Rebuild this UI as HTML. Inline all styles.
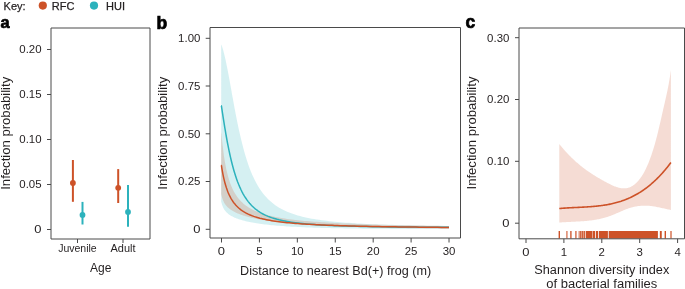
<!DOCTYPE html>
<html><head><meta charset="utf-8"><style>
html,body{margin:0;padding:0;background:#fff;width:685px;height:289px;overflow:hidden}
svg{display:block;will-change:transform}
text{font-family:"Liberation Sans",sans-serif}
</style></head><body>
<svg width="685" height="289" viewBox="0 0 685 289" font-family="Liberation Sans, sans-serif" fill="#231f20">
<rect width="685" height="289" fill="#fff"/>
<text x="3.6" y="9.6" font-size="11" style="stroke:#231f20;stroke-width:0.25px">Key:</text>
<circle cx="42.8" cy="5.6" r="4.1" fill="#cd5228"/>
<text x="51.8" y="9.6" font-size="11" style="stroke:#231f20;stroke-width:0.25px">RFC</text>
<circle cx="94" cy="5.6" r="4.1" fill="#2cb2bc"/>
<text x="106" y="9.6" font-size="11" style="stroke:#231f20;stroke-width:0.25px">HUI</text>
<g font-size="17.5" font-weight="bold" fill="#000" style="stroke:#000;stroke-width:0.7px">
<text x="0.4" y="27.5" font-size="16.3" style="stroke:#000;stroke-width:0.7px">a</text>
<text x="156.6" y="29.3" style="stroke:#000;stroke-width:0.7px">b</text>
<text x="465.4" y="28" style="stroke:#000;stroke-width:0.7px">c</text>
</g>
<g stroke="#4a4a4a" stroke-width="1" fill="none">
<path d="M51,28H150V239H51Z"/>
<path d="M47,49.5H51"/>
<path d="M47,94.5H51"/>
<path d="M47,139.5H51"/>
<path d="M47,184.5H51"/>
<path d="M47,229.5H51"/>
<path d="M77.5,239V243"/>
<path d="M123,239V243"/>
</g>
<text x="41.6" y="53.30" text-anchor="end" font-size="10.6" textLength="22.26" lengthAdjust="spacingAndGlyphs">0.20</text><text x="41.6" y="98.30" text-anchor="end" font-size="10.6" textLength="22.26" lengthAdjust="spacingAndGlyphs">0.15</text><text x="41.6" y="143.30" text-anchor="end" font-size="10.6" textLength="22.26" lengthAdjust="spacingAndGlyphs">0.10</text><text x="41.6" y="188.30" text-anchor="end" font-size="10.6" textLength="22.26" lengthAdjust="spacingAndGlyphs">0.05</text><text x="41.6" y="233.30" text-anchor="end" font-size="10.6" textLength="7.22" lengthAdjust="spacingAndGlyphs">0</text>
<text x="77.45" y="252.2" font-size="10.5" text-anchor="middle">Juvenile</text>
<text x="123" y="252.2" font-size="10.5" text-anchor="middle" textLength="25" lengthAdjust="spacingAndGlyphs">Adult</text>
<text x="100.7" y="271.9" font-size="12" text-anchor="middle">Age</text>
<text transform="translate(10.4,133.3) rotate(-90)" font-size="12" text-anchor="middle" textLength="113" lengthAdjust="spacingAndGlyphs">Infection probability</text>
<path d="M72.9,160V201.8" stroke="#cd5228" stroke-width="2"/>
<circle cx="72.9" cy="183" r="2.9" fill="#cd5228"/>
<path d="M82.5,201.9V224.5" stroke="#2cb2bc" stroke-width="2"/>
<circle cx="82.5" cy="214.9" r="2.9" fill="#2cb2bc"/>
<path d="M118.2,169.1V203" stroke="#cd5228" stroke-width="2"/>
<circle cx="118.2" cy="187.8" r="2.9" fill="#cd5228"/>
<path d="M128,184.9V226.8" stroke="#2cb2bc" stroke-width="2"/>
<circle cx="128" cy="211.9" r="2.9" fill="#2cb2bc"/>
<path d="M221.20,44.70L221.22,44.70L221.26,44.70L221.34,44.70L221.46,44.85L221.60,45.24L221.78,45.73L221.99,46.33L222.23,47.05L222.50,47.91L222.81,48.91L223.15,50.07L223.52,51.41L223.92,52.94L224.35,54.68L224.82,56.63L225.32,58.82L225.85,61.25L226.41,63.94L227.01,66.89L227.63,70.09L228.29,73.56L228.99,77.27L229.71,81.23L230.47,85.42L231.25,89.81L232.07,94.38L232.93,99.10L233.81,103.95L234.73,108.89L235.68,113.89L236.66,118.91L237.67,123.92L238.72,128.89L239.80,133.79L240.91,138.60L242.05,143.29L243.22,147.85L244.43,152.25L245.67,156.49L246.94,160.55L248.24,164.43L249.58,168.13L250.94,171.64L252.34,174.96L253.78,178.11L255.24,181.07L256.73,183.86L258.26,186.49L259.82,188.96L261.42,191.27L263.04,193.44L264.70,195.47L266.39,197.37L268.11,199.15L269.86,200.81L271.65,202.37L273.46,203.82L275.31,205.18L277.20,206.46L279.11,207.64L281.06,208.76L283.04,209.80L285.05,210.77L287.09,211.68L289.17,212.54L291.27,213.34L293.41,214.09L295.58,214.79L297.79,215.45L300.02,216.07L302.29,216.65L304.59,217.19L306.92,217.71L309.29,218.19L311.69,218.64L314.12,219.07L316.58,219.47L319.07,219.85L321.60,220.21L324.15,220.55L326.74,220.87L329.37,221.17L332.02,221.45L334.71,221.72L337.42,221.98L340.18,222.22L342.96,222.45L345.77,222.66L348.62,222.87L351.50,223.06L354.41,223.24L357.36,223.42L360.33,223.59L363.34,223.74L366.38,223.89L369.45,224.03L372.56,224.17L375.69,224.30L378.86,224.42L382.06,224.54L385.30,224.65L388.56,224.75L391.86,224.85L395.19,224.95L398.55,225.04L401.95,225.12L405.37,225.21L408.83,225.29L412.32,225.36L415.85,225.43L419.40,225.50L422.99,225.56L426.61,225.63L430.26,225.68L433.94,225.74L437.66,225.79L441.41,225.84L445.19,225.89L449.00,225.94L449.00,229.10L445.19,229.10L441.41,229.09L437.66,229.08L433.94,229.07L430.26,229.06L426.61,229.05L422.99,229.04L419.40,229.03L415.85,229.01L412.32,229.00L408.83,228.98L405.37,228.97L401.95,228.95L398.55,228.93L395.19,228.92L391.86,228.90L388.56,228.87L385.30,228.85L382.06,228.83L378.86,228.80L375.69,228.78L372.56,228.75L369.45,228.72L366.38,228.69L363.34,228.65L360.33,228.62L357.36,228.58L354.41,228.54L351.50,228.50L348.62,228.46L345.77,228.41L342.96,228.37L340.18,228.32L337.42,228.26L334.71,228.21L332.02,228.15L329.37,228.09L326.74,228.02L324.15,227.96L321.60,227.89L319.07,227.81L316.58,227.74L314.12,227.66L311.69,227.57L309.29,227.48L306.92,227.39L304.59,227.30L302.29,227.20L300.02,227.09L297.79,226.99L295.58,226.87L293.41,226.76L291.27,226.64L289.17,226.51L287.09,226.38L285.05,226.24L283.04,226.10L281.06,225.95L279.11,225.80L277.20,225.65L275.31,225.48L273.46,225.31L271.65,225.14L269.86,224.96L268.11,224.77L266.39,224.58L264.70,224.38L263.04,224.17L261.42,223.96L259.82,223.74L258.26,223.52L256.73,223.28L255.24,223.04L253.78,222.79L252.34,222.54L250.94,222.27L249.58,222.00L248.24,221.72L246.94,221.43L245.67,221.14L244.43,220.83L243.22,220.52L242.05,220.19L240.91,219.86L239.80,219.51L238.72,219.16L237.67,218.79L236.66,218.42L235.68,218.03L234.73,217.63L233.81,217.21L232.93,216.78L232.07,216.34L231.25,215.88L230.47,215.41L229.71,214.92L228.99,214.42L228.29,213.89L227.63,213.35L227.01,212.79L226.41,212.21L225.85,211.60L225.32,210.98L224.82,210.33L224.35,209.66L223.92,208.97L223.52,208.25L223.15,207.53L222.81,206.78L222.50,206.03L222.23,205.29L221.99,204.55L221.78,203.85L221.60,203.19L221.46,202.61L221.34,202.36L221.26,202.36L221.22,202.36L221.20,202.36Z" fill="#2cb2bc" fill-opacity="0.2"/>
<path d="M221.20,132.65L221.22,132.65L221.26,132.65L221.34,132.65L221.46,133.33L221.60,135.01L221.78,136.98L221.99,139.21L222.23,141.65L222.50,144.27L222.81,147.01L223.15,149.85L223.52,152.74L223.92,155.66L224.35,158.57L224.82,161.45L225.32,164.29L225.85,167.06L226.41,169.75L227.01,172.36L227.63,174.87L228.29,177.29L228.99,179.60L229.71,181.82L230.47,183.93L231.25,185.94L232.07,187.85L232.93,189.67L233.81,191.40L234.73,193.04L235.68,194.59L236.66,196.06L237.67,197.46L238.72,198.78L239.80,200.04L240.91,201.23L242.05,202.35L243.22,203.42L244.43,204.43L245.67,205.39L246.94,206.31L248.24,207.17L249.58,207.99L250.94,208.78L252.34,209.52L253.78,210.22L255.24,210.90L256.73,211.54L258.26,212.14L259.82,212.72L261.42,213.28L263.04,213.81L264.70,214.31L266.39,214.79L268.11,215.25L269.86,215.69L271.65,216.11L273.46,216.51L275.31,216.89L277.20,217.26L279.11,217.61L281.06,217.95L283.04,218.27L285.05,218.58L287.09,218.88L289.17,219.17L291.27,219.44L293.41,219.71L295.58,219.96L297.79,220.21L300.02,220.44L302.29,220.67L304.59,220.89L306.92,221.10L309.29,221.30L311.69,221.49L314.12,221.68L316.58,221.86L319.07,222.04L321.60,222.21L324.15,222.37L326.74,222.53L329.37,222.68L332.02,222.83L334.71,222.97L337.42,223.11L340.18,223.25L342.96,223.38L345.77,223.50L348.62,223.62L351.50,223.74L354.41,223.86L357.36,223.97L360.33,224.07L363.34,224.18L366.38,224.28L369.45,224.38L372.56,224.47L375.69,224.57L378.86,224.66L382.06,224.74L385.30,224.83L388.56,224.91L391.86,224.99L395.19,225.07L398.55,225.14L401.95,225.22L405.37,225.29L408.83,225.36L412.32,225.43L415.85,225.50L419.40,225.56L422.99,225.62L426.61,225.69L430.26,225.75L433.94,225.80L437.66,225.86L441.41,225.92L445.19,225.97L449.00,226.02L449.00,228.60L445.19,228.57L441.41,228.54L437.66,228.51L433.94,228.47L430.26,228.43L426.61,228.39L422.99,228.35L419.40,228.31L415.85,228.27L412.32,228.22L408.83,228.17L405.37,228.12L401.95,228.07L398.55,228.02L395.19,227.96L391.86,227.90L388.56,227.84L385.30,227.78L382.06,227.71L378.86,227.64L375.69,227.57L372.56,227.50L369.45,227.42L366.38,227.35L363.34,227.26L360.33,227.18L357.36,227.09L354.41,227.00L351.50,226.91L348.62,226.81L345.77,226.71L342.96,226.61L340.18,226.50L337.42,226.39L334.71,226.28L332.02,226.16L329.37,226.04L326.74,225.92L324.15,225.79L321.60,225.65L319.07,225.52L316.58,225.38L314.12,225.23L311.69,225.08L309.29,224.93L306.92,224.77L304.59,224.61L302.29,224.45L300.02,224.27L297.79,224.10L295.58,223.92L293.41,223.73L291.27,223.54L289.17,223.35L287.09,223.15L285.05,222.94L283.04,222.73L281.06,222.52L279.11,222.30L277.20,222.07L275.31,221.84L273.46,221.60L271.65,221.36L269.86,221.11L268.11,220.86L266.39,220.60L264.70,220.33L263.04,220.06L261.42,219.78L259.82,219.49L258.26,219.20L256.73,218.90L255.24,218.59L253.78,218.28L252.34,217.96L250.94,217.63L249.58,217.29L248.24,216.95L246.94,216.59L245.67,216.23L244.43,215.86L243.22,215.48L242.05,215.09L240.91,214.70L239.80,214.29L238.72,213.87L237.67,213.44L236.66,212.99L235.68,212.54L234.73,212.07L233.81,211.59L232.93,211.09L232.07,210.58L231.25,210.05L230.47,209.51L229.71,208.94L228.99,208.36L228.29,207.76L227.63,207.14L227.01,206.50L226.41,205.84L225.85,205.15L225.32,204.44L224.82,203.71L224.35,202.95L223.92,202.17L223.52,201.37L223.15,200.55L222.81,199.72L222.50,198.89L222.23,198.06L221.99,197.25L221.78,196.48L221.60,195.77L221.46,195.13L221.34,194.86L221.26,194.86L221.22,194.86L221.20,194.86Z" fill="#cd5228" fill-opacity="0.2"/>
<path d="M221.20,105.80L221.22,105.80L221.26,105.80L221.34,105.80L221.46,106.19L221.60,107.16L221.78,108.34L221.99,109.73L222.23,111.33L222.50,113.14L222.81,115.13L223.15,117.32L223.52,119.68L223.92,122.22L224.35,124.92L224.82,127.76L225.32,130.73L225.85,133.82L226.41,137.00L227.01,140.27L227.63,143.60L228.29,146.97L228.99,150.36L229.71,153.76L230.47,157.14L231.25,160.49L232.07,163.80L232.93,167.04L233.81,170.21L234.73,173.29L235.68,176.28L236.66,179.16L237.67,181.93L238.72,184.59L239.80,187.13L240.91,189.55L242.05,191.85L243.22,194.03L244.43,196.09L245.67,198.04L246.94,199.88L248.24,201.61L249.58,203.24L250.94,204.77L252.34,206.20L253.78,207.54L255.24,208.80L256.73,209.98L258.26,211.08L259.82,212.11L261.42,213.07L263.04,213.97L264.70,214.81L266.39,215.60L268.11,216.33L269.86,217.01L271.65,217.66L273.46,218.25L275.31,218.81L277.20,219.34L279.11,219.83L281.06,220.28L283.04,220.71L285.05,221.11L287.09,221.49L289.17,221.84L291.27,222.17L293.41,222.48L295.58,222.77L297.79,223.05L300.02,223.30L302.29,223.55L304.59,223.77L306.92,223.98L309.29,224.18L311.69,224.37L314.12,224.55L316.58,224.72L319.07,224.88L321.60,225.02L324.15,225.17L326.74,225.30L329.37,225.42L332.02,225.54L334.71,225.65L337.42,225.76L340.18,225.86L342.96,225.95L345.77,226.04L348.62,226.12L351.50,226.20L354.41,226.28L357.36,226.35L360.33,226.42L363.34,226.48L366.38,226.54L369.45,226.60L372.56,226.65L375.69,226.70L378.86,226.75L382.06,226.79L385.30,226.84L388.56,226.88L391.86,226.91L395.19,226.95L398.55,226.98L401.95,227.02L405.37,227.05L408.83,227.07L412.32,227.10L415.85,227.12L419.40,227.15L422.99,227.17L426.61,227.19L430.26,227.21L433.94,227.22L437.66,227.24L441.41,227.25L445.19,227.26L449.00,227.27" fill="none" stroke="#2cb2bc" stroke-width="1.5"/>
<path d="M221.20,165.39L221.22,165.39L221.26,165.39L221.34,165.39L221.46,165.77L221.60,166.70L221.78,167.81L221.99,169.07L222.23,170.48L222.50,172.00L222.81,173.61L223.15,175.30L223.52,177.05L223.92,178.84L224.35,180.65L224.82,182.47L225.32,184.28L225.85,186.07L226.41,187.83L227.01,189.56L227.63,191.24L228.29,192.87L228.99,194.44L229.71,195.97L230.47,197.43L231.25,198.83L232.07,200.18L232.93,201.46L233.81,202.69L234.73,203.86L235.68,204.98L236.66,206.04L237.67,207.05L238.72,208.01L239.80,208.92L240.91,209.79L242.05,210.61L243.22,211.39L244.43,212.13L245.67,212.83L246.94,213.50L248.24,214.14L249.58,214.74L250.94,215.31L252.34,215.85L253.78,216.37L255.24,216.86L256.73,217.33L258.26,217.77L259.82,218.20L261.42,218.60L263.04,218.98L264.70,219.35L266.39,219.70L268.11,220.03L269.86,220.35L271.65,220.65L273.46,220.94L275.31,221.21L277.20,221.48L279.11,221.73L281.06,221.97L283.04,222.20L285.05,222.42L287.09,222.63L289.17,222.83L291.27,223.03L293.41,223.21L295.58,223.39L297.79,223.56L300.02,223.73L302.29,223.89L304.59,224.04L306.92,224.18L309.29,224.32L311.69,224.46L314.12,224.59L316.58,224.71L319.07,224.83L321.60,224.95L324.15,225.06L326.74,225.17L329.37,225.27L332.02,225.37L334.71,225.47L337.42,225.56L340.18,225.65L342.96,225.74L345.77,225.82L348.62,225.90L351.50,225.98L354.41,226.06L357.36,226.13L360.33,226.20L363.34,226.27L366.38,226.34L369.45,226.40L372.56,226.46L375.69,226.52L378.86,226.58L382.06,226.64L385.30,226.70L388.56,226.75L391.86,226.80L395.19,226.85L398.55,226.90L401.95,226.95L405.37,226.99L408.83,227.04L412.32,227.08L415.85,227.12L419.40,227.16L422.99,227.20L426.61,227.24L430.26,227.28L433.94,227.32L437.66,227.35L441.41,227.39L445.19,227.42L449.00,227.46" fill="none" stroke="#cd5228" stroke-width="1.5"/>
<g stroke="#4a4a4a" stroke-width="1" fill="none">
<path d="M210,27.5H460.5V238H210Z"/>
<path d="M205.7,38.3H210"/>
<path d="M205.7,86H210"/>
<path d="M205.7,133.8H210"/>
<path d="M205.7,181.5H210"/>
<path d="M205.7,229.3H210"/>
<path d="M221.50,238V242.5"/>
<path d="M259.42,238V242.5"/>
<path d="M297.34,238V242.5"/>
<path d="M335.26,238V242.5"/>
<path d="M373.18,238V242.5"/>
<path d="M411.10,238V242.5"/>
<path d="M449.02,238V242.5"/>
</g>
<text x="200.4" y="42.10" text-anchor="end" font-size="10.6" textLength="22.26" lengthAdjust="spacingAndGlyphs">1.00</text><text x="200.4" y="89.80" text-anchor="end" font-size="10.6" textLength="22.26" lengthAdjust="spacingAndGlyphs">0.75</text><text x="200.4" y="137.60" text-anchor="end" font-size="10.6" textLength="22.26" lengthAdjust="spacingAndGlyphs">0.50</text><text x="200.4" y="185.30" text-anchor="end" font-size="10.6" textLength="22.26" lengthAdjust="spacingAndGlyphs">0.25</text><text x="200.4" y="233.10" text-anchor="end" font-size="10.6" textLength="7.22" lengthAdjust="spacingAndGlyphs">0</text>
<text x="221.50" y="254.5" font-size="10.3" text-anchor="middle" textLength="7.22" lengthAdjust="spacingAndGlyphs">0</text>
<text x="259.42" y="254.5" font-size="10.3" text-anchor="middle" textLength="6.36" lengthAdjust="spacingAndGlyphs">5</text>
<text x="297.34" y="254.5" font-size="10.3" text-anchor="middle" textLength="12.72" lengthAdjust="spacingAndGlyphs">10</text>
<text x="335.26" y="254.5" font-size="10.3" text-anchor="middle" textLength="12.72" lengthAdjust="spacingAndGlyphs">15</text>
<text x="373.18" y="254.5" font-size="10.3" text-anchor="middle" textLength="12.72" lengthAdjust="spacingAndGlyphs">20</text>
<text x="411.10" y="254.5" font-size="10.3" text-anchor="middle" textLength="12.72" lengthAdjust="spacingAndGlyphs">25</text>
<text x="449.02" y="254.5" font-size="10.3" text-anchor="middle" textLength="12.72" lengthAdjust="spacingAndGlyphs">30</text>
<text x="335.6" y="274.9" font-size="12" text-anchor="middle" textLength="191" lengthAdjust="spacingAndGlyphs">Distance to nearest Bd(+) frog (m)</text>
<text transform="translate(166.6,133.2) rotate(-90)" font-size="12" text-anchor="middle" textLength="113" lengthAdjust="spacingAndGlyphs">Infection probability</text>
<path d="M559.30,143.99L559.86,144.69L560.42,145.39L560.98,146.07L561.54,146.75L562.10,147.42L562.66,148.09L563.23,148.74L563.79,149.39L564.35,150.03L564.91,150.66L565.47,151.29L566.03,151.91L566.59,152.52L567.15,153.12L567.71,153.72L568.27,154.31L568.83,154.90L569.39,155.47L569.96,156.04L570.52,156.60L571.08,157.16L571.64,157.71L572.20,158.25L572.76,158.79L573.32,159.32L573.88,159.85L574.44,160.36L575.00,160.88L575.56,161.38L576.12,161.88L576.68,162.38L577.25,162.87L577.81,163.35L578.37,163.83L578.93,164.30L579.49,164.77L580.05,165.23L580.61,165.68L581.17,166.14L581.73,166.58L582.29,167.02L582.85,167.46L583.41,167.89L583.98,168.32L584.54,168.74L585.10,169.15L585.66,169.57L586.22,169.97L586.78,170.38L587.34,170.78L587.90,171.17L588.46,171.56L589.02,171.95L589.58,172.33L590.14,172.71L590.71,173.09L591.27,173.46L591.83,173.82L592.39,174.19L592.95,174.55L593.51,174.90L594.07,175.26L594.63,175.61L595.19,175.95L595.75,176.30L596.31,176.64L596.87,176.98L597.43,177.31L598.00,177.64L598.56,177.97L599.12,178.30L599.68,178.62L600.24,178.94L600.80,179.26L601.36,179.58L601.92,179.89L602.48,180.21L603.04,180.52L603.60,180.82L604.16,181.13L604.73,181.43L605.29,181.74L605.85,182.04L606.41,182.34L606.97,182.63L607.53,182.93L608.09,183.22L608.65,183.51L609.21,183.80L609.77,184.08L610.33,184.36L610.89,184.64L611.45,184.91L612.02,185.17L612.58,185.43L613.14,185.68L613.70,185.92L614.26,186.15L614.82,186.38L615.38,186.60L615.94,186.80L616.50,187.00L617.06,187.18L617.62,187.36L618.18,187.52L618.75,187.67L619.31,187.80L619.87,187.93L620.43,188.03L620.99,188.13L621.55,188.21L622.11,188.27L622.67,188.31L623.23,188.34L623.79,188.35L624.35,188.35L624.91,188.32L625.47,188.28L626.04,188.21L626.60,188.13L627.16,188.02L627.72,187.90L628.28,187.75L628.84,187.58L629.40,187.39L629.96,187.17L630.52,186.93L631.08,186.66L631.64,186.37L632.20,186.06L632.77,185.71L633.33,185.34L633.89,184.95L634.45,184.52L635.01,184.07L635.57,183.59L636.13,183.07L636.69,182.53L637.25,181.96L637.81,181.36L638.37,180.72L638.93,180.05L639.49,179.35L640.06,178.62L640.62,177.85L641.18,177.04L641.74,176.20L642.30,175.32L642.86,174.40L643.42,173.44L643.98,172.45L644.54,171.41L645.10,170.33L645.66,169.21L646.22,168.04L646.79,166.83L647.35,165.57L647.91,164.27L648.47,162.92L649.03,161.52L649.59,160.08L650.15,158.58L650.71,157.03L651.27,155.44L651.83,153.78L652.39,152.08L652.95,150.32L653.52,148.51L654.08,146.64L654.64,144.71L655.20,142.73L655.76,140.69L656.32,138.59L656.88,136.43L657.44,134.21L658.00,131.93L658.56,129.61L659.12,127.24L659.68,124.85L660.24,122.42L660.81,119.97L661.37,117.50L661.93,115.02L662.49,112.54L663.05,110.06L663.61,107.59L664.17,105.14L664.73,102.70L665.29,100.28L665.85,97.83L666.41,95.34L666.97,92.77L667.54,90.09L668.10,87.27L668.66,84.28L669.22,81.08L669.78,77.66L670.34,73.97L670.90,69.99L670.90,209.96L669.96,209.79L669.02,209.60L668.09,209.40L667.15,209.20L666.21,209.00L665.27,208.79L664.34,208.58L663.40,208.36L662.46,208.15L661.52,207.94L660.58,207.73L659.65,207.52L658.71,207.32L657.77,207.13L656.83,206.94L655.89,206.76L654.96,206.59L654.02,206.43L653.08,206.28L652.14,206.15L651.21,206.03L650.27,205.93L649.33,205.84L648.39,205.77L647.45,205.71L646.52,205.68L645.58,205.65L644.64,205.65L643.70,205.66L642.77,205.69L641.83,205.73L640.89,205.80L639.95,205.88L639.01,205.98L638.08,206.10L637.14,206.23L636.20,206.39L635.26,206.57L634.33,206.76L633.39,206.97L632.45,207.21L631.51,207.46L630.57,207.74L629.64,208.03L628.70,208.34L627.76,208.67L626.82,209.02L625.88,209.37L624.95,209.74L624.01,210.12L623.07,210.51L622.13,210.91L621.20,211.31L620.26,211.72L619.32,212.13L618.38,212.54L617.44,212.95L616.51,213.36L615.57,213.76L614.63,214.16L613.69,214.55L612.76,214.94L611.82,215.31L610.88,215.67L609.94,216.02L609.00,216.35L608.07,216.67L607.13,216.98L606.19,217.27L605.25,217.55L604.32,217.81L603.38,218.07L602.44,218.31L601.50,218.54L600.56,218.75L599.63,218.96L598.69,219.16L597.75,219.34L596.81,219.52L595.87,219.68L594.94,219.84L594.00,219.99L593.06,220.13L592.12,220.26L591.19,220.38L590.25,220.50L589.31,220.61L588.37,220.71L587.43,220.81L586.50,220.90L585.56,220.98L584.62,221.06L583.68,221.14L582.75,221.21L581.81,221.27L580.87,221.33L579.93,221.39L578.99,221.45L578.06,221.50L577.12,221.56L576.18,221.61L575.24,221.65L574.31,221.70L573.37,221.75L572.43,221.79L571.49,221.84L570.55,221.88L569.62,221.93L568.68,221.98L567.74,222.03L566.80,222.08L565.86,222.13L564.93,222.19L563.99,222.25L563.05,222.31L562.11,222.37L561.18,222.44L560.24,222.52L559.30,222.60Z" fill="#cd5228" fill-opacity="0.2"/>
<path d="M559.30,208.56L560.24,208.47L561.18,208.39L562.11,208.31L563.05,208.24L563.99,208.17L564.93,208.10L565.86,208.03L566.80,207.97L567.74,207.91L568.68,207.86L569.62,207.80L570.55,207.75L571.49,207.70L572.43,207.65L573.37,207.61L574.31,207.56L575.24,207.51L576.18,207.47L577.12,207.43L578.06,207.38L578.99,207.34L579.93,207.29L580.87,207.24L581.81,207.20L582.75,207.15L583.68,207.10L584.62,207.05L585.56,207.00L586.50,206.94L587.43,206.88L588.37,206.82L589.31,206.76L590.25,206.69L591.19,206.62L592.12,206.55L593.06,206.47L594.00,206.39L594.94,206.31L595.87,206.22L596.81,206.12L597.75,206.02L598.69,205.92L599.63,205.81L600.56,205.69L601.50,205.57L602.44,205.44L603.38,205.30L604.32,205.16L605.25,205.01L606.19,204.85L607.13,204.69L608.07,204.52L609.00,204.34L609.94,204.15L610.88,203.95L611.82,203.75L612.76,203.53L613.69,203.31L614.63,203.08L615.57,202.83L616.51,202.58L617.44,202.32L618.38,202.04L619.32,201.76L620.26,201.46L621.20,201.16L622.13,200.84L623.07,200.51L624.01,200.17L624.95,199.82L625.88,199.45L626.82,199.07L627.76,198.68L628.70,198.28L629.64,197.86L630.57,197.43L631.51,196.98L632.45,196.52L633.39,196.05L634.33,195.56L635.26,195.06L636.20,194.54L637.14,194.01L638.08,193.46L639.01,192.90L639.95,192.31L640.89,191.72L641.83,191.10L642.77,190.47L643.70,189.83L644.64,189.16L645.58,188.48L646.52,187.78L647.45,187.06L648.39,186.33L649.33,185.57L650.27,184.80L651.21,184.00L652.14,183.19L653.08,182.36L654.02,181.51L654.96,180.64L655.89,179.75L656.83,178.84L657.77,177.91L658.71,176.95L659.65,175.98L660.58,174.98L661.52,173.97L662.46,172.93L663.40,171.87L664.34,170.78L665.27,169.68L666.21,168.55L667.15,167.40L668.09,166.22L669.02,165.02L669.96,163.80L670.90,162.55" fill="none" stroke="#cd5228" stroke-width="1.6"/>
<g fill="#cd5228">
<rect x="578.2" y="231" width="7.40" height="7.5" fill-opacity="0.4"/>
<rect x="585.9" y="231" width="6.30" height="7.5" fill-opacity="1"/>
<rect x="592.6" y="231" width="2.40" height="7.5" fill-opacity="1"/>
<rect x="595.8" y="231" width="2.20" height="7.5" fill-opacity="1"/>
<rect x="598.8" y="231" width="9.10" height="7.5" fill-opacity="1"/>
<rect x="608.7" y="231" width="49.20" height="7.5" fill-opacity="1"/>
<rect x="558.60" y="231" width="1.4" height="7.5" fill-opacity="1"/>
<rect x="566.20" y="231" width="1.4" height="7.5" fill-opacity="0.75"/>
<rect x="570.20" y="231" width="1.4" height="7.5" fill-opacity="0.95"/>
<rect x="575.20" y="231" width="1.4" height="7.5" fill-opacity="0.85"/>
<rect x="579.65" y="231" width="1.3" height="7.5" fill-opacity="0.85"/>
<rect x="581.65" y="231" width="1.3" height="7.5" fill-opacity="0.9"/>
<rect x="583.65" y="231" width="1.3" height="7.5" fill-opacity="0.9"/>
<rect x="659.85" y="231" width="1.9" height="7.5" fill-opacity="1"/>
<rect x="664.60" y="231" width="1.4" height="7.5" fill-opacity="1"/>
<rect x="670.25" y="231" width="1.5" height="7.5" fill-opacity="0.8"/>
</g>
<g stroke="#4a4a4a" stroke-width="1" fill="none">
<path d="M519,28H684.5V238.8H519Z"/>
<path d="M515,37.7H519"/>
<path d="M515,99.5H519"/>
<path d="M515,161.3H519"/>
<path d="M515,223.2H519"/>
<path d="M526.00,238.8V243"/>
<path d="M563.90,238.8V243"/>
<path d="M601.80,238.8V243"/>
<path d="M639.70,238.8V243"/>
<path d="M677.60,238.8V243"/>
</g>
<text x="509.4" y="41.50" text-anchor="end" font-size="10.6" textLength="22.26" lengthAdjust="spacingAndGlyphs">0.30</text><text x="509.4" y="103.30" text-anchor="end" font-size="10.6" textLength="22.26" lengthAdjust="spacingAndGlyphs">0.20</text><text x="509.4" y="165.10" text-anchor="end" font-size="10.6" textLength="22.26" lengthAdjust="spacingAndGlyphs">0.10</text><text x="509.4" y="227.00" text-anchor="end" font-size="10.6" textLength="7.22" lengthAdjust="spacingAndGlyphs">0</text>
<text x="526.00" y="256.3" font-size="10.3" text-anchor="middle" textLength="7.22" lengthAdjust="spacingAndGlyphs">0</text>
<text x="563.90" y="256.3" font-size="10.3" text-anchor="middle" textLength="6.36" lengthAdjust="spacingAndGlyphs">1</text>
<text x="601.80" y="256.3" font-size="10.3" text-anchor="middle" textLength="6.36" lengthAdjust="spacingAndGlyphs">2</text>
<text x="639.70" y="256.3" font-size="10.3" text-anchor="middle" textLength="6.36" lengthAdjust="spacingAndGlyphs">3</text>
<text x="677.60" y="256.3" font-size="10.3" text-anchor="middle" textLength="6.36" lengthAdjust="spacingAndGlyphs">4</text>
<text x="601.8" y="274.4" font-size="12" text-anchor="middle" textLength="135" lengthAdjust="spacingAndGlyphs">Shannon diversity index</text>
<text x="601.8" y="287.9" font-size="12" text-anchor="middle" textLength="111" lengthAdjust="spacingAndGlyphs">of bacterial families</text>
<text transform="translate(475.6,133) rotate(-90)" font-size="12" text-anchor="middle" textLength="113" lengthAdjust="spacingAndGlyphs">Infection probability</text>
</svg>
</body></html>
